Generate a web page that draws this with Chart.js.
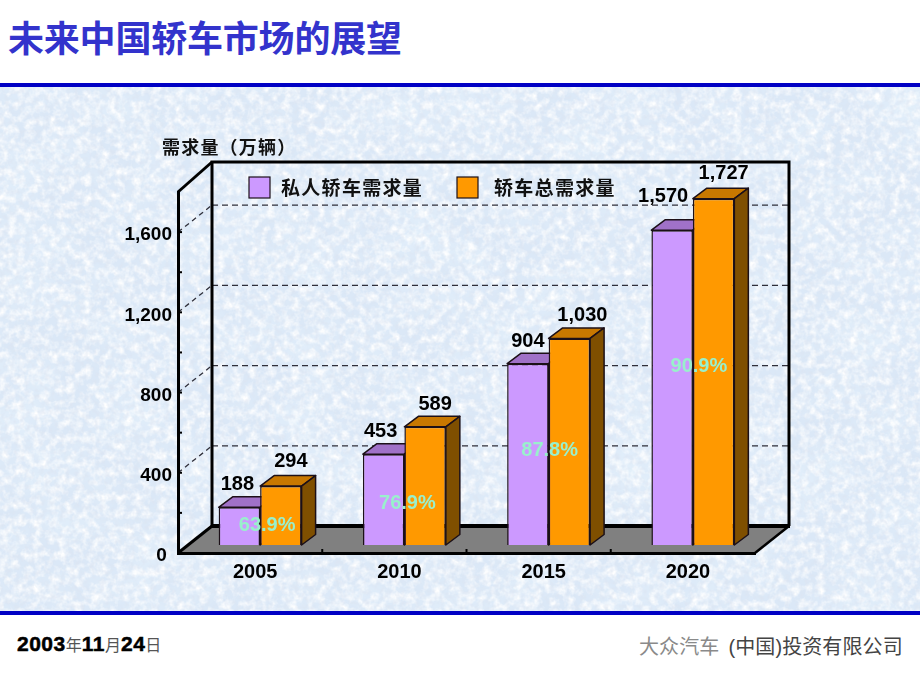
<!DOCTYPE html>
<html lang="zh"><head><meta charset="utf-8">
<style>
html,body{margin:0;padding:0;background:#fff;width:920px;height:690px;overflow:hidden}
body{position:relative;font-family:"Noto Sans CJK SC",sans-serif}
.abs{position:absolute;white-space:nowrap}
#tex{left:0;top:85px;width:920px;height:527px}
#top{left:0;top:83px;width:920px;height:3.5px;background:#0000c4}
#bot{left:0;top:611px;width:920px;height:4px;background:#0000c4}
#title{left:8px;top:10px;font-size:36px;line-height:52px;font-weight:700;color:#3333cc;letter-spacing:-.2px}
#date{left:17px;top:631px;font-size:16px;line-height:26px;color:#555}
#date b{font-family:"Liberation Sans";font-size:21px;letter-spacing:.5px;color:#000;-webkit-text-stroke:.5px #000}
#co{left:639px;top:631px;font-size:20px;line-height:30px;color:#444;letter-spacing:.1px}
#co i{font-style:normal;color:#8a8a8a;margin-right:9px}
#co span{font-family:"Liberation Sans"}
canvas{position:absolute;left:0;top:0}
</style></head><body>
<svg id="tex" class="abs" width="920" height="527" xmlns="http://www.w3.org/2000/svg">
<filter id="mottle" x="0" y="0" width="100%" height="100%">
<feTurbulence type="fractalNoise" baseFrequency="0.018 0.022" numOctaves="3" seed="7"/>
<feColorMatrix type="matrix" values="0 0 0 0 .76  0 0 0 0 .86  0 0 0 0 .96  2.2 0 0 0 -.85"/>
</filter>
<filter id="mottle2" x="0" y="0" width="100%" height="100%">
<feTurbulence type="fractalNoise" baseFrequency="0.12" numOctaves="3" seed="21"/>
<feColorMatrix type="matrix" values="0 0 0 0 1  0 0 0 0 1  0 0 0 0 1  0 2.2 0 0 -.85"/>
</filter>
<filter id="mottle3" x="0" y="0" width="100%" height="100%">
<feTurbulence type="fractalNoise" baseFrequency="0.2" numOctaves="2" seed="4"/>
<feColorMatrix type="matrix" values="0 0 0 0 .72  0 0 0 0 .78  0 0 0 0 .88  0 0 1.6 0 -.72"/>
</filter>
<rect width="920" height="527" fill="#dbe8f7"/>
<rect width="920" height="527" filter="url(#mottle)"/>
<rect width="920" height="527" filter="url(#mottle2)"/>
<rect width="920" height="527" filter="url(#mottle3)"/>
</svg>
<div id="top" class="abs"></div><div id="bot" class="abs"></div>
<div id="title" class="abs">未来中国轿车市场的展望</div>
<div id="date" class="abs"><b>2003</b>年<b>11</b>月<b>24</b>日</div>
<div id="co" class="abs"><i>大众汽车</i><span>(</span>中国<span>)</span>投资有限公司</div>
<canvas id="c" width="920" height="690"></canvas>
<script src="https://cdn.jsdelivr.net/npm/chart.js@4"></script>
<script>
const years = ['2005','2010','2015','2020'];
const privateDemand = [188,453,904,1570];
const totalDemand = [294,589,1030,1727];
const privateShare = ['63.9%','76.9%','87.8%','90.9%'];
const seriesNames = ['私人轿车需求量','轿车总需求量'];
const axisTitle = '需求量（万辆）';

// placement tweaks for text, in pixels
const shareX = [7,3,1,6], shareY = [525,503,450,366];
const privLabelDx = [-2,-3,0,-9], privLabelDy = [-23,-23,-22,-34];
const totalLabelDx = [10,10,13,10], totalLabelDy = [-25,-22,-23,-25];

const SANS = '"Liberation Sans"', CJK = '"Noto Sans CJK SC"';
const barShift = {x:10,y:-8};       // bars stand on the floor, behind the front edge
const depth = {x:14,y:-10.5};       // extrusion of each bar
const wall = {x:34,y:-27};          // offset of back wall from front axis

const scene = {
  id:'scene',
  beforeDraw(ch){
    const {ctx,chartArea:a,scales:{y}} = ch;
    const bx=a.left+wall.x, rx=a.right+wall.x, by=a.bottom+wall.y, ty=a.top-30;
    ctx.save();
    // floor
    ctx.fillStyle='#808080';
    ctx.beginPath();ctx.moveTo(a.left,a.bottom);ctx.lineTo(a.right,a.bottom);ctx.lineTo(rx,by);ctx.lineTo(bx,by);ctx.closePath();ctx.fill();
    // gridlines
    ctx.strokeStyle='#2f2f3a';ctx.lineWidth=1.3;
    y.ticks.forEach(t=>{
      if(t.value===0||t.value%400!==0) return;
      const p=y.getPixelForValue(t.value);
      ctx.setLineDash([6,4]);
      ctx.beginPath();ctx.moveTo(bx,p+wall.y);ctx.lineTo(rx,p+wall.y);ctx.stroke();
      ctx.setLineDash([5,4]);
      ctx.beginPath();ctx.moveTo(a.left,p);ctx.lineTo(bx,p+wall.y);ctx.stroke();
    });
    ctx.setLineDash([]);
    // wall frame
    ctx.strokeStyle='#000';ctx.lineWidth=3;ctx.lineJoin='miter';
    ctx.beginPath();ctx.moveTo(bx,by);ctx.lineTo(bx,ty);ctx.lineTo(rx,ty);ctx.lineTo(rx,by);ctx.stroke();
    ctx.lineCap='butt';ctx.lineJoin='bevel';
    ctx.beginPath();ctx.moveTo(a.left,a.top);ctx.lineTo(bx,ty);ctx.stroke();
    ctx.beginPath();ctx.moveTo(a.left,a.bottom);ctx.lineTo(bx,by);ctx.stroke();
    ctx.lineWidth=4;
    ctx.beginPath();ctx.moveTo(bx,by);ctx.lineTo(rx+1,by);ctx.stroke();
    ctx.lineWidth=2.5;
    ctx.beginPath();ctx.moveTo(rx,by);ctx.lineTo(a.right,a.bottom);ctx.stroke();
    // inner tick marks
    ctx.lineWidth=2;
    y.ticks.forEach(t=>{
      if(t.value===0||t.value>1600) return;
      const p=y.getPixelForValue(t.value);
      ctx.beginPath();ctx.moveTo(a.left,p);ctx.lineTo(a.left+4,p);ctx.stroke();
    });
    const xs=ch.scales.x, cw=(a.right-a.left)/years.length;
    years.forEach((_,i)=>{
      if(i===0) return;
      const p=xs.getPixelForValue(i)-cw/2;
      ctx.beginPath();ctx.moveTo(p,a.bottom);ctx.lineTo(p,a.bottom-4);ctx.stroke();
    });
    ctx.restore();
  },
  beforeDatasetsDraw(ch){
    const {ctx}=ch;
    ctx.save();
    ctx.translate(barShift.x,barShift.y);
    ch.data.datasets.forEach((ds,di)=>{
      const meta=ch.getDatasetMeta(di);
      meta.data.forEach(b=>{
        const l=b.x-b.width/2,r=b.x+b.width/2,t=b.y,bt=b.base;
        ctx.lineWidth=1.5;ctx.strokeStyle='#1c1018';ctx.lineJoin='round';
        ctx.fillStyle=ds.capColor;
        ctx.beginPath();ctx.moveTo(l,t);ctx.lineTo(l+depth.x,t+depth.y);ctx.lineTo(r+depth.x,t+depth.y);ctx.lineTo(r,t);ctx.closePath();ctx.fill();ctx.stroke();
        ctx.fillStyle=ds.sideColor;
        ctx.beginPath();ctx.moveTo(r,t);ctx.lineTo(r+depth.x,t+depth.y);ctx.lineTo(r+depth.x,bt+depth.y);ctx.lineTo(r,bt);ctx.closePath();ctx.fill();ctx.stroke();
      });
    });
  },
  afterDatasetsDraw(ch){
    const {ctx,chartArea:a,scales:{x}}=ch;
    ctx.restore();
    ctx.save();
    ctx.textBaseline='middle';
    // value labels
    ctx.fillStyle='#000';ctx.textAlign='center';ctx.font='bold 20px '+SANS;
    const fmt=v=>v.toLocaleString('en-US');
    ch.getDatasetMeta(0).data.forEach((b,i)=>{
      ctx.fillText(fmt(privateDemand[i]),b.x+barShift.x+privLabelDx[i],b.y+barShift.y+privLabelDy[i]);
    });
    ch.getDatasetMeta(1).data.forEach((b,i)=>{
      ctx.fillText(fmt(totalDemand[i]),b.x+barShift.x+totalLabelDx[i],b.y+barShift.y+totalLabelDy[i]);
    });
    // share labels
    ctx.fillStyle='#99f0cc';ctx.font='bold 20px '+SANS;
    privateShare.forEach((s,i)=>{
      ctx.fillText(s,x.getPixelForValue(i)+barShift.x+shareX[i],shareY[i]);
    });
    // axis title
    ctx.textAlign='left';ctx.fillStyle='#111';
    ctx.font='bold 18px '+CJK;ctx.letterSpacing='1.2px';
    ctx.fillText(axisTitle,a.left-16,147);
    // legend
    const cols=[[249,281],[457,494]];
    ctx.font='bold 19px '+CJK;ctx.letterSpacing='1.3px';
    ch.data.datasets.forEach((ds,i)=>{
      ctx.fillStyle=ds.backgroundColor;ctx.strokeStyle='#1c1018';ctx.lineWidth=1.2;
      ctx.fillRect(cols[i][0],177,21,21);ctx.strokeRect(cols[i][0],177,21,21);
      ctx.fillStyle='#111';
      ctx.fillText(ds.label,cols[i][1],188);
    });
    ctx.restore();
  }
};

new Chart(document.getElementById('c'),{
  type:'bar',
  data:{labels:years,datasets:[
    {label:seriesNames[0],data:privateDemand,backgroundColor:'#cc99ff',capColor:'#a071c8',sideColor:'#7a55a0',borderColor:'#1c1018',borderWidth:1.5},
    {label:seriesNames[1],data:totalDemand,backgroundColor:'#ff9900',capColor:'#c87800',sideColor:'#7f4f00',borderColor:'#1c1018',borderWidth:1.5}
  ]},
  options:{
    responsive:false,animation:false,
    layout:{padding:{left:118,right:165,top:192,bottom:97}},
    datasets:{bar:{categoryPercentage:.575,barPercentage:1}},
    plugins:{legend:{display:false},title:{display:false},tooltip:{enabled:false}},
    scales:{
      x:{
        grid:{display:false,drawTicks:false},
        border:{display:true,color:'#000',width:3},
        afterFit(s){s.height=40},
        ticks:{color:'#000',font:{family:SANS,size:20,weight:'bold'},padding:7,labelOffset:5,maxRotation:0,autoSkip:false}
      },
      y:{
        min:0,max:1800,
        grid:{display:false,drawTicks:false},
        border:{display:true,color:'#000',width:3},
        afterFit(s){s.width=60},
        ticks:{stepSize:200,autoSkip:false,color:'#000',padding:6,labelOffset:3,
          font:{family:SANS,size:19,weight:'bold'},
          callback:v=>v===0?'0 ':(v%400===0&&v<=1600?v.toLocaleString('en-US'):'')}
      }
    }
  },
  plugins:[scene]
});
</script>
</body></html>
